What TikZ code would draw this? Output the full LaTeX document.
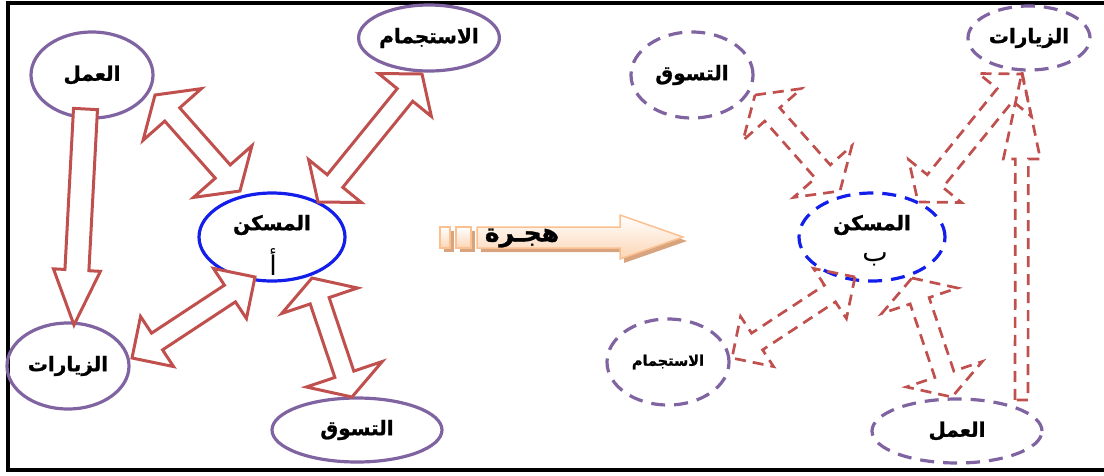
\documentclass[tikz,border=0pt]{standalone}
\usepackage{fontspec}
\usetikzlibrary{calc,shapes.geometric}
\TeXXeTstate=1
\newfontfamily\arabicfont[Script=Arabic, BoldFeatures={FakeBold=1.2}]{DejaVu Sans}

\definecolor{arrowred}{HTML}{C0504D}
\definecolor{ovalpurple}{HTML}{8064A2}
\definecolor{homeblue}{RGB}{20,30,235}
\definecolor{peachline}{HTML}{FAC090}
\definecolor{peachfill}{HTML}{FCD5B4}
\definecolor{peachshadow}{HTML}{D8A47F}

% block arrow with a head at both ends:
% #1 style, #2/#3 tips, #4 head length, #5 head half-width, #6 shaft half-width
\newcommand\twowayarrow[6][]{%
  \draw[#1] (#2)
    -- ($(#2)!#4!(#3)!#5!90:(#3)$) -- ($(#2)!#4!(#3)!#6!90:(#3)$)
    -- ($(#3)!#4!(#2)!#6!-90:(#2)$) -- ($(#3)!#4!(#2)!#5!-90:(#2)$)
    -- (#3)
    -- ($(#3)!#4!(#2)!#5!90:(#2)$) -- ($(#3)!#4!(#2)!#6!90:(#2)$)
    -- ($(#2)!#4!(#3)!#6!-90:(#3)$) -- ($(#2)!#4!(#3)!#5!-90:(#3)$)
    -- cycle;}
% block arrow with one head: #2 tail, #3 tip
\newcommand\onewayarrow[6][]{%
  \draw[#1] ($(#2)!#6!90:(#3)$)
    -- ($(#3)!#4!(#2)!#6!-90:(#2)$) -- ($(#3)!#4!(#2)!#5!-90:(#2)$)
    -- (#3)
    -- ($(#3)!#4!(#2)!#5!90:(#2)$) -- ($(#3)!#4!(#2)!#6!90:(#2)$)
    -- ($(#2)!#6!-90:(#3)$) -- cycle;}

\tikzset{
  oval/.style={ellipse, draw=ovalpurple, line width=3.2pt, inner sep=0pt},
  ovalB/.style={oval, dash pattern=on 14pt off 9pt},
  home/.style={ellipse, draw=homeblue, line width=3.2pt, inner sep=0pt,
    minimum width=146pt, minimum height=88pt},
  homeB/.style={home, dash pattern=on 14pt off 9pt},
  lbl/.style={font=\arabicfont\bfseries\fontsize{20}{24}\selectfont},
  bigl/.style={font=\arabicfont\bfseries\fontsize{20}{24}\selectfont},
  letter/.style={font=\arabicfont\fontsize{27}{32}\selectfont},
  solidarrow/.style={draw=arrowred, fill=white, line width=3pt, line join=miter},
  dasharrow/.style={draw=arrowred, line width=2.7pt, dash pattern=on 11pt off 7pt},
  peachbox/.style={top color=white, bottom color=peachfill, draw=peachline, line width=1.5pt},
}

\begin{document}
\begin{tikzpicture}[x=1pt, y=-1pt]
\useasboundingbox (0,0) rectangle (1104,475);

% frame
\draw[line width=4pt] (1104,3) -- (8,3) -- (8,470) -- (1104,470);

% ---------- first settlement (a) ----------
\node[oval, minimum width=122pt, minimum height=86pt, lbl] (work) at (92,75) {\beginR العمل\endR};
\node[oval, minimum width=122pt, minimum height=66pt, lbl] (leisure) at (429,38) {\beginR الاستجمام\endR};
\node[oval, minimum width=122pt, minimum height=86pt, lbl] (visits) at (68,366) {\beginR الزيارات\endR};
\node[oval, minimum width=170pt, minimum height=64pt, lbl] (shop) at (357,430) {\beginR التسوق\endR};
\node[home] (homeA) at (272,237) {};
\node[bigl] (homeAname) at (272,225) {\beginR المسكن\endR};
\node[letter] (homeAtag) at (273,262) {\beginR أ\endR};

\coordinate (w1) at (85.5,109);  \coordinate (w2) at (74,325);
\coordinate (a1) at (155,95);    \coordinate (a2) at (240,191);
\coordinate (b1) at (422,74);    \coordinate (b2) at (318,202);
\coordinate (c1) at (255,277);   \coordinate (c2) at (132,358);
\coordinate (d1) at (312,278);   \coordinate (d2) at (352,397);

\onewayarrow[solidarrow]{w1}{w2}{55pt}{23.5pt}{12pt}
\twowayarrow[solidarrow]{a1}{a2}{26pt}{39pt}{10pt}
\twowayarrow[solidarrow]{b1}{b2}{27pt}{34pt}{10pt}
\twowayarrow[solidarrow]{c1}{c2}{30pt}{30pt}{10pt}
\twowayarrow[solidarrow]{d1}{d2}{24pt}{40pt}{10pt}

% ---------- migration arrow ----------
\fill[peachshadow] (444,231) rectangle (454,252);
\fill[peachshadow] (460,231) rectangle (475,252);
\fill[peachshadow] (481,231) -- (624,231) -- (624,219) -- (687,241) -- (624,263) -- (624,252) -- (481,252) -- cycle;
\shade[peachbox] (440,227) rectangle (450,248);
\shade[peachbox] (456,227) rectangle (471,248);
\shade[peachbox] (477,227) -- (620,227) -- (620,215) -- (683,237) -- (620,259) -- (620,248) -- (477,248) -- cycle;
\node[font=\arabicfont\bfseries\fontsize{25}{30}\selectfont] (hijra) at (522,238) {\beginR هجـرة\endR};

% ---------- second settlement (b) ----------
\node[ovalB, minimum width=122pt, minimum height=86pt, lbl] (shopB) at (692,75) {\beginR التسوق\endR};
\node[ovalB, minimum width=122pt, minimum height=64pt, lbl] (visitsB) at (1029,38) {\beginR الزيارات\endR};
\node[ovalB, minimum width=122pt, minimum height=86pt, font=\arabicfont\bfseries\fontsize{14.5}{17}\selectfont] (leisureB) at (668,362) {\beginR الاستجمام\endR};
\node[ovalB, minimum width=170pt, minimum height=64pt, lbl] (workB) at (957,431) {\beginR العمل\endR};
\node[homeB] (homeB) at (872,237) {};
\node[bigl] (homeBname) at (872,225) {\beginR المسكن\endR};
\node[letter] (homeBtag) at (875,259) {\beginR ب\endR};

\coordinate (e1) at (755,95);    \coordinate (e2) at (840,191);
\coordinate (f1) at (1022,74);   \coordinate (f2) at (918,202);
\coordinate (g1) at (855,277);   \coordinate (g2) at (732,358);
\coordinate (h1) at (912,278);   \coordinate (h2) at (952,397);
\coordinate (k1) at (1021.5,400); \coordinate (k2) at (1022,72);

\twowayarrow[dasharrow]{e1}{e2}{26pt}{39pt}{10pt}
\twowayarrow[dasharrow]{f1}{f2}{27pt}{34pt}{10pt}
\twowayarrow[dasharrow]{g1}{g2}{30pt}{30pt}{10pt}
\twowayarrow[dasharrow]{h1}{h2}{24pt}{40pt}{10pt}
\onewayarrow[dasharrow]{k1}{k2}{87pt}{18.5pt}{6.5pt}
\end{tikzpicture}
\end{document}
